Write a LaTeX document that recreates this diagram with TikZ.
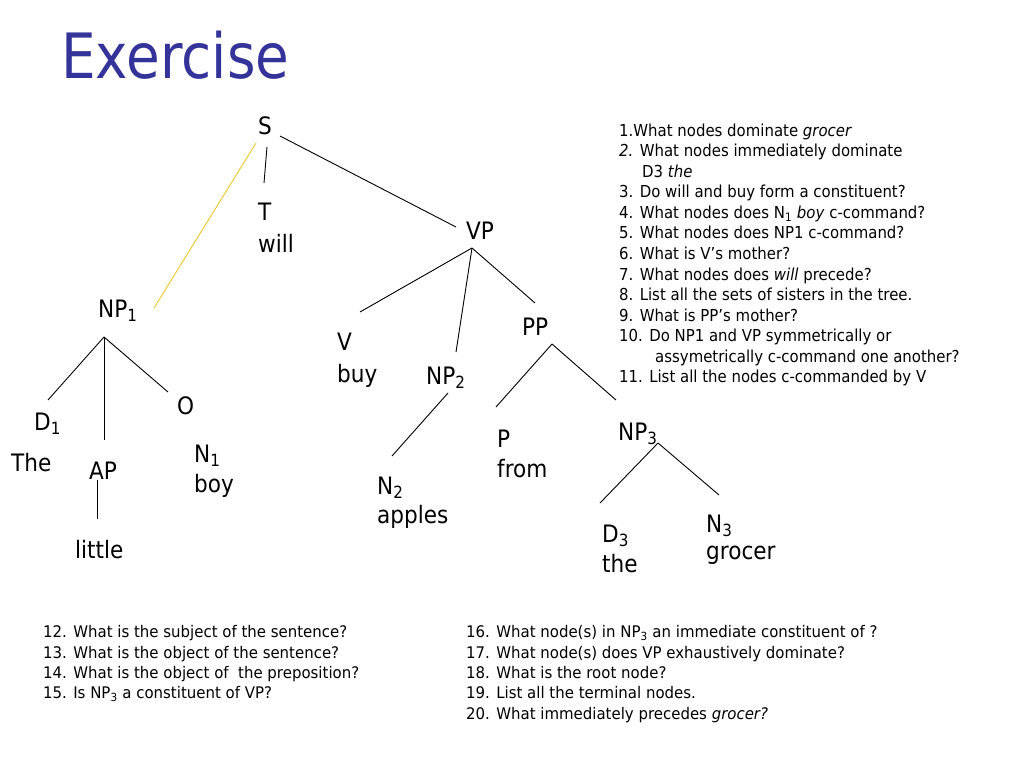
\documentclass[tikz,border=0pt]{standalone}
\usepackage{fontspec}
\usepackage{tikz}
\newfontfamily\titlefont[FakeStretch=0.877]{DejaVu Sans}
\newfontfamily\treefont[FakeStretch=0.9]{DejaVu Sans}
\newfontfamily\qfont[FakeStretch=0.905]{DejaVu Sans}
\newfontfamily\narrowfont[FakeStretch=0.935]{DejaVu Sans}
\definecolor{titleblue}{RGB}{51,51,153}
\definecolor{goldline}{RGB}{236,200,40}
\tikzset{
  cat/.style={font=\treefont\fontsize{24}{29.5}\selectfont, inner sep=0pt, anchor=north west, align=left},
  quest/.style={font=\qfont\fontsize{16.5}{20.55}\selectfont, inner sep=0pt, anchor=north west, align=left},
  quest narrow/.style={font=\narrowfont\fontsize{16}{20.3}\selectfont, inner sep=0pt, anchor=north west, align=left},
  branch/.style={line width=0.9pt, black}
}

\begin{document}
\begin{tikzpicture}[x=1pt, y=-1pt]
	%%%%% START %%%%%
	\useasboundingbox (0,0) rectangle (1024,768);
	
	\node[anchor=base west, inner sep=0pt, text=titleblue, font=\titlefont\fontsize{62.5}{70}\selectfont] (title) at (61,78) {Exercise};
	
	% categories
	\node[cat] (S) at (258,116) {S};
	\node[cat] (T) at (258,203) {T\\[2pt]will};
	\node[cat] (VP) at (466,222) {VP};
	\node[cat] (NP1) at (98,300) {NP\textsubscript{1}};
	\node[cat] (V) at (337,333) {V\\[2pt]buy};
	\node[cat] (NP2) at (426,367) {NP\textsubscript{2}};
	\node[cat] (PP) at (522,318) {PP};
	\node[cat] (D1) at (34,413) {D\textsubscript{1}};
	\node[cat] (The) at (11,453) {The};
	\node[cat] (AP) at (89,462) {AP};
	\node[cat] (O) at (177,396) {O};
	\node[cat] (N1) at (194,445) {N\textsubscript{1}\\boy};
	\node[cat] (little) at (75,540) {little};
	\node[cat] (N2) at (377,477) {N\textsubscript{2}\\[-1pt]apples};
	\node[cat] (P) at (497,430) {P\\from};
	\node[cat] (NP3) at (618,423) {NP\textsubscript{3}};
	\node[cat] (D3) at (602,525) {D\textsubscript{3}\\the};
	\node[cat] (N3) at (706,515) {N\textsubscript{3}\\[-3pt]grocer};
	
	% branch ends
	\coordinate (S-l) at (256,143);
	\coordinate (S-m) at (267,147);
	\coordinate (S-r) at (280,136);
	\coordinate (NP1-in) at (154,308);
	\coordinate (T-in) at (264,183);
	\coordinate (VP-in) at (456,227);
	\coordinate (VP-out) at (472,248);
	\coordinate (V-in) at (360,312);
	\coordinate (NP2-in) at (456,352);
	\coordinate (PP-in) at (535,303);
	\coordinate (NP1-out) at (104,337);
	\coordinate (D1-in) at (48,400);
	\coordinate (AP-in) at (104,440);
	\coordinate (O-in) at (168,392);
	\coordinate (AP-out) at (97,480);
	\coordinate (little-in) at (97,519);
	\coordinate (NP2-out) at (448,393);
	\coordinate (N2-in) at (392,456);
	\coordinate (PP-out) at (552,344);
	\coordinate (P-in) at (496,407);
	\coordinate (NP3-in) at (616,400);
	\coordinate (NP3-out) at (658,443);
	\coordinate (D3-in) at (600,503);
	\coordinate (N3-in) at (719,495);
	
	\draw[line width=0.9pt, goldline] (S-l) -- (NP1-in);
	\draw[branch] (S-m) -- (T-in);
	\draw[branch] (S-r) -- (VP-in);
	\draw[branch] (VP-out) -- (V-in);
	\draw[branch] (VP-out) -- (NP2-in);
	\draw[branch] (VP-out) -- (PP-in);
	\draw[branch] (NP1-out) -- (D1-in);
	\draw[branch] (NP1-out) -- (AP-in);
	\draw[branch] (NP1-out) -- (O-in);
	\draw[branch] (AP-out) -- (little-in);
	\draw[branch] (NP2-out) -- (N2-in);
	\draw[branch] (PP-out) -- (P-in);
	\draw[branch] (PP-out) -- (NP3-in);
	\draw[branch] (NP3-out) -- (D3-in);
	\draw[branch] (NP3-out) -- (N3-in);
	
	% questions
	\node[quest] (q1) at (619,123.5) {1.What nodes dominate \textit{grocer}\\
		\textit{2.} What nodes immediately dominate\\
		\hspace*{23pt}D3 \textit{the}\\
		3. Do will and buy form a constituent?\\
		4. What nodes does N\textsubscript{1} \textit{boy} c-command?\\
		5. What nodes does NP1 c-command?\\
		6. What is V’s mother?\\
		7. What nodes does \textit{will} precede?\\
		8. List all the sets of sisters in the tree.\\
		9. What is PP’s mother?\\
		10. Do NP1 and VP symmetrically or\\
		\hspace*{36pt}assymetrically c-command one another?\\
		11. List all the nodes c-commanded by V};
	
	\node[quest narrow] (q12) at (43,625.5) {12. What is the subject of the sentence?\\
		13. What is the object of the sentence?\\
		14. What is the object of\ \ the preposition?\\
		15. Is NP\textsubscript{3} a constituent of VP?};
	
	\node[quest narrow] (q16) at (466,625.5) {16. What node(s) in NP\textsubscript{3} an immediate constituent of ?\\
		17. What node(s) does VP exhaustively dominate?\\
		18. What is the root node?\\
		19. List all the terminal nodes.\\
		20. What immediately precedes \textit{grocer?}};
	
	%%%%% END %%%%%
\end{tikzpicture}
\end{document}
